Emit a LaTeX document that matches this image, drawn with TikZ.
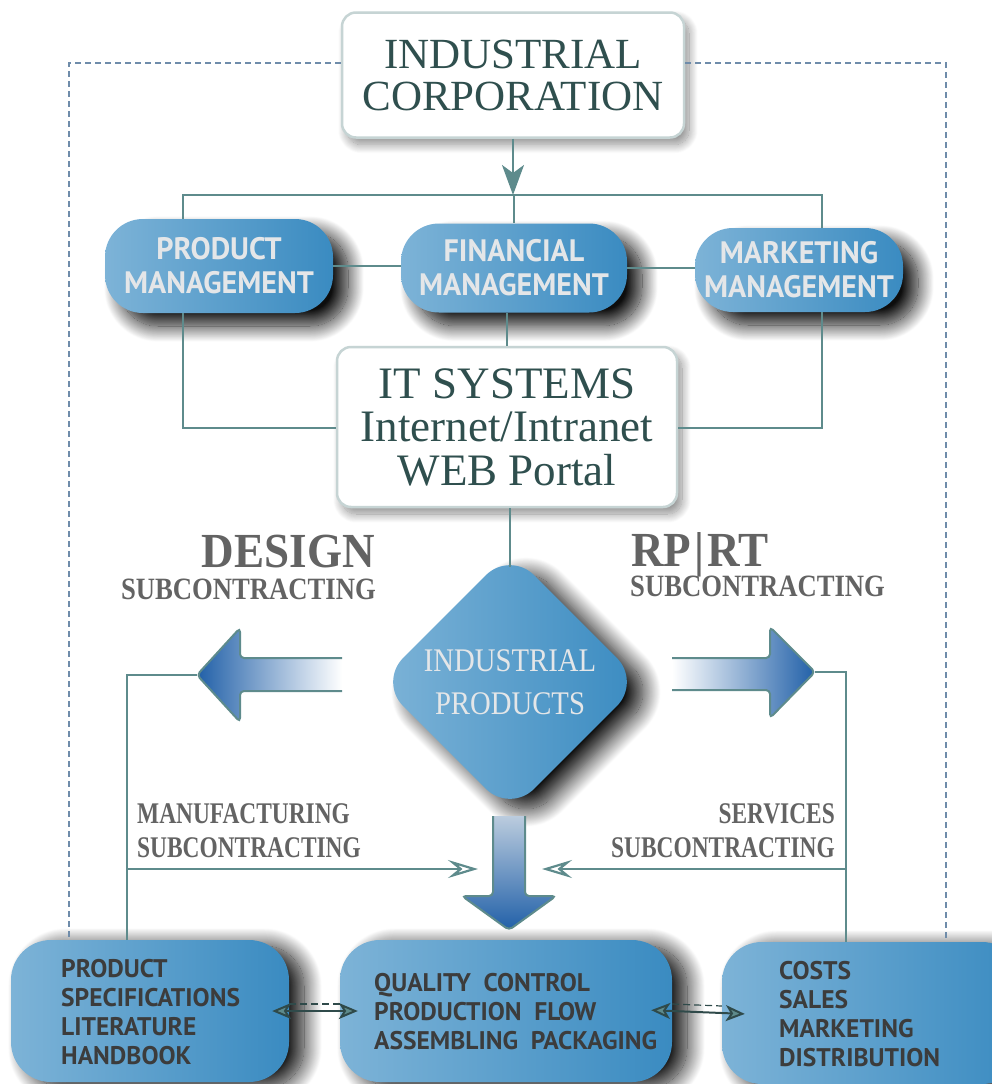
\documentclass[tikz,border=0pt]{standalone}
\usepackage{fontspec}
\setmainfont{Liberation Serif}
\newfontfamily\mgmtsans[FakeStretch=0.97]{PT Sans}
\newfontfamily\boxsans{PT Sans}
\newfontfamily\condserif[FakeStretch=0.87]{Liberation Serif}
\newfontfamily\headserif[FakeStretch=0.92]{Liberation Serif}
\newfontfamily\subserif[FakeStretch=0.86]{Liberation Serif}
\newfontfamily\lowserif[FakeStretch=0.78]{Liberation Serif}
\usetikzlibrary{shapes.geometric,arrows.meta,shadows.blur,calc}

\definecolor{lineteal}{HTML}{5E8B8C}
\definecolor{darkteal}{HTML}{2F4F4E}
\definecolor{arrowdark}{HTML}{2F4A4A}
\definecolor{boxlight}{HTML}{7DB3D7}
\definecolor{boxdark}{HTML}{3A8BC1}
\definecolor{arrowblue}{HTML}{2160A8}
\definecolor{arrowmid}{HTML}{2E69AE}
\definecolor{arrowpale}{HTML}{BBCCDE}
\definecolor{framedash}{HTML}{6F8CAA}
\definecolor{labelgray}{HTML}{636363}
\definecolor{boxtext}{HTML}{3C3C3C}
\definecolor{mgmttext}{HTML}{E4E6E8}
\definecolor{whiteedge}{HTML}{C6D4D4}

\tikzset{
  whitebox/.style={rectangle, rounded corners=14pt, draw=whiteedge, line width=2.5pt,
    fill=white, inner sep=0pt, align=center, text=darkteal,
    blur shadow={shadow xshift=5pt, shadow yshift=-7pt, shadow blur radius=9pt,
      shadow blur steps=20, shadow opacity=45}},
  bluebox/.style={rectangle, rounded corners=38pt, left color=boxlight, right color=boxdark,
    inner sep=0pt, align=center, text=mgmttext,
    font=\mgmtsans\bfseries\fontsize{31}{34}\selectfont,
    blur shadow={shadow xshift=15pt, shadow yshift=-13pt, shadow blur radius=16pt,
      shadow blur steps=25, shadow opacity=95}},
  basebox/.style={rectangle, rounded corners=40pt, left color=boxlight, right color=boxdark,
    inner sep=0pt,
    blur shadow={shadow xshift=15pt, shadow yshift=-6pt, shadow blur radius=18pt,
      shadow blur steps=25, shadow opacity=95}},
  basetext/.style={anchor=north west, inner sep=0pt, align=left, text=boxtext,
    font=\boxsans\bfseries\fontsize{25.5}{29}\selectfont},
  conn/.style={draw=lineteal, line width=2.2pt},
  framedash/.style={draw=framedash, line width=1.3pt, dash pattern=on 6pt off 4pt},
  bigarrow/.style={draw=lineteal, line width=2pt, rounded corners=4pt},
  openhead/.style={-{Stealth[length=30pt, width=18pt, inset=11pt, fill=white]}},
  linkarrow/.style={draw=arrowdark, line width=2pt,
    {Stealth[length=19pt, width=16pt, inset=5pt, fill=lineteal]}-{Stealth[length=19pt, width=16pt, inset=5pt, fill=lineteal]}},
  linkdash/.style={draw=arrowdark, line width=1.2pt, dash pattern=on 7pt off 4pt},
  biglabel/.style={text=labelgray, inner sep=0pt, font=\headserif\bfseries\fontsize{49}{49}\selectfont},
  sublabel/.style={text=labelgray, inner sep=0pt, font=\subserif\bfseries\fontsize{31}{31}\selectfont},
  lowlabel/.style={text=labelgray, inner sep=0pt, font=\lowserif\bfseries\fontsize{30}{30}\selectfont},
}

\begin{document}
\begin{tikzpicture}[x=1pt, y=-1pt]
\useasboundingbox (0,0) rectangle (992,1084);

% ---- top level ----
\node[whitebox, minimum width=342pt, minimum height=125pt,
      font=\fontsize{43}{42}\selectfont] (corp) at (513,75) {INDUSTRIAL\\CORPORATION};

% ---- management row ----
\node[bluebox, minimum width=228pt, minimum height=94pt] (prodm) at (219,266) {PRODUCT\\MANAGEMENT};
\node[bluebox, minimum width=226pt, minimum height=89pt] (finm) at (514,268) {FINANCIAL\\MANAGEMENT};
\node[bluebox, minimum width=208pt, minimum height=84pt] (mktm) at (799,270) {MARKETING\\MANAGEMENT};

% ---- IT systems ----
\node[whitebox, minimum width=340pt, minimum height=160pt,
      font=\fontsize{45}{43.5}\selectfont] (itsys) at (507,427) {IT SYSTEMS\\Internet/Intranet\\WEB Portal};

% ---- products diamond ----
\node[diamond, minimum width=262pt, minimum height=262pt, inner sep=0pt, rounded corners=34pt,
      left color=boxlight, right color=boxdark,
      blur shadow={shadow xshift=16pt, shadow yshift=-10pt, shadow blur radius=18pt,
        shadow blur steps=25, shadow opacity=95}]
      (ip) at (510,682) {};
\node[font=\condserif\fontsize{33}{43}\selectfont, text=mgmttext, align=center, inner sep=0pt]
      (iptext) at (ip.center) {INDUSTRIAL\\PRODUCTS};

% ---- subcontracting labels ----
\node[biglabel, anchor=base east] (design) at (375,567) {DESIGN};
\node[sublabel, anchor=base east] (designsub) at (376,599) {SUBCONTRACTING};
\node[biglabel, anchor=base west] (rprt) at (631,566) {RP\kern3pt|\kern3pt RT};
\node[sublabel, anchor=base west] (rprtsub) at (630,596) {SUBCONTRACTING};
\node[lowlabel, anchor=base west] (mfg) at (137,823) {MANUFACTURING};
\node[lowlabel, anchor=base west] (mfgsub) at (137,857) {SUBCONTRACTING};
\node[lowlabel, anchor=base east] (svc) at (835,823) {SERVICES};
\node[lowlabel, anchor=base east] (svcsub) at (835,857) {SUBCONTRACTING};

% ---- bottom row ----
\node[basebox, minimum width=278pt, minimum height=142pt] (spec) at (150,1011) {};
\node[basebox, minimum width=332pt, minimum height=142pt] (qc) at (506,1011) {};
\node[basebox, minimum width=300pt, minimum height=142pt] (costs) at (872,1013) {};
\node[basetext] (spectext) at (61,959) {PRODUCT\\SPECIFICATIONS\\LITERATURE\\HANDBOOK};
\node[basetext] (qctext) at (374,973) {QUALITY\hspace{0.5em}CONTROL\\PRODUCTION\hspace{0.5em}FLOW\\ASSEMBLING\hspace{0.5em}PACKAGING};
\node[basetext] (coststext) at (779,961) {COSTS\\SALES\\MARKETING\\DISTRIBUTION};

% ---- block arrows ----
\path[bigarrow, left color=arrowblue, middle color=arrowmid, right color=white]
  (342,658) -- (240,658) -- (240,628) -- (197,675) -- (240,722) -- (240,691) -- (342,691);
\path[bigarrow, left color=white, middle color=arrowmid, right color=arrowblue]
  (672,658) -- (770,658) -- (770,627) -- (815,672) -- (770,718) -- (770,690) -- (672,690);
\path[bigarrow, top color=arrowpale, middle color=arrowmid, bottom color=arrowblue]
  (493,816) -- (493,896) -- (462,896) -- (509,930) -- (556,896) -- (525,896) -- (525,816);

% ---- outer dashed frame ----
\coordinate (fTL) at (69,63);
\coordinate (fTR) at (946,63);
\draw[framedash] (corp.west |- fTL) -- (fTL) -- (fTL |- spec.north);
\draw[framedash] (corp.east |- fTR) -- (fTR) -- (fTR |- costs.north);

% ---- top distribution ----
\coordinate (busL) at (183,195);
\coordinate (busR) at (822,195);
\draw[conn] (busL |- prodm.north) -- (busL) -- (busR) -- (busR |- mktm.north);
\draw[conn] (finm.north |- busL) -- (finm.north);
\draw[conn, -{Stealth[length=30pt, width=22pt, inset=8pt]}, fill=lineteal]
  (corp.south) -- (corp.south |- busL);
\draw[conn] (prodm.east) -- (prodm.east -| finm.west);
\draw[conn] (finm.east) -- (finm.east -| mktm.west);

% ---- links to IT systems ----
\coordinate (lowL) at (183,428);
\coordinate (lowR) at (822,428);
\draw[conn] (lowL |- prodm.south) -- (lowL) -- (lowL -| itsys.west);
\draw[conn] (lowR |- mktm.south) -- (lowR) -- (lowR -| itsys.east);
\draw[conn] (finm.south -| itsys.north) -- (itsys.north);
\draw[conn] (itsys.south -| ip.north) -- ([yshift=-16pt]ip.north);

% ---- subcontracting branches ----
\coordinate (lTip) at (197,675);
\coordinate (lCorner) at (127,675);
\draw[conn] (lTip) -- (lCorner) -- (lCorner |- spec.north);
\coordinate (rTip) at (815,672);
\coordinate (rCorner) at (846,672);
\draw[conn] (rTip) -- (rCorner) -- (rCorner |- costs.north);
\coordinate (mfgStart) at (127,869);
\coordinate (mfgEnd) at (478,869);
\draw[conn, openhead] (mfgStart) -- (mfgEnd);
\coordinate (svcStart) at (846,869);
\coordinate (svcEnd) at (542,869);
\draw[conn, openhead] (svcStart) -- (svcEnd);

% ---- links between bottom blocks ----
\draw[linkdash] ([yshift=7pt]spec.east) -- ([yshift=7pt]qc.west);
\draw[linkarrow, shorten <=-17pt, shorten >=-18pt] (spec.east) -- (qc.west);
\draw[linkdash] ([yshift=7pt]qc.east) -- ([yshift=7pt]costs.west);
\draw[linkarrow, shorten <=-21pt, shorten >=-23pt] (qc.east) -- (costs.west);
\end{tikzpicture}
\end{document}
